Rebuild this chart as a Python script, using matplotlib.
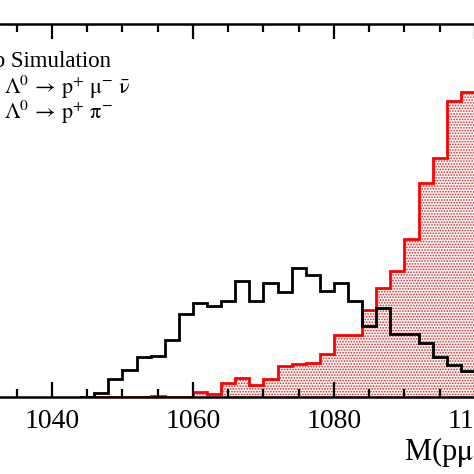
import numpy as np
import matplotlib.pyplot as plt
from matplotlib.ticker import MultipleLocator

plt.rcParams['font.family'] = 'Liberation Serif'
plt.rcParams['mathtext.fontset'] = 'stix'
plt.rcParams['hatch.linewidth'] = 0.8

# bin edges in MeV (2 MeV bins)
edges = np.arange(1044, 1101, 2)

# Lambda0 -> p mu nu (black), arbitrary units
semilep = [0.5, 4, 17.7, 27, 39.7, 40.7, 57, 82.7, 94.5, 91.5,
           96.5, 116, 96.5, 114.3, 105.5, 129.5, 122.5, 106.3, 114.5, 96,
           71.5, 89, 62.8, 63.5, 54, 40.3, 32.3, 26.5]

# Lambda0 -> p pi (red, shaded)
hadronic = [0, 0.3, 0.3, 0.3, 0.3, 1.3, 0.3, 0.5, 4.7, 2.7,
            13.7, 19, 12.5, 18.5, 31.5, 33.3, 34.3, 43, 62.3, 62,
            86.7, 109.5, 126.5, 157.7, 214.3, 238.7, 296, 305.3]

W, H = 474, 474
fig = plt.figure(figsize=(W / 100, H / 100), dpi=100)

# axes partly outside the canvas (the picture is a crop)
x0_px, px_per_unit = 52.0, 7.05
xmin, xmax = 1030, 1130
left = (x0_px - (1040 - xmin) * px_per_unit) / W
width = (xmax - xmin) * px_per_unit / W
ax = fig.add_axes([left, (H - 397) / H, width, 373 / H])

ax.stairs(hadronic, edges, fill=True, facecolor='#fbf4f4', edgecolor='#c83030',
          linewidth=0, hatch='......')
ax.stairs(hadronic, edges, baseline=0, color='red', linewidth=2.0)
ax.stairs(semilep, edges, baseline=0, color='black', linewidth=2.0)

ax.set_xlim(xmin, xmax)
ax.set_ylim(0, 373)
ax.xaxis.set_major_locator(MultipleLocator(20))
ax.xaxis.set_minor_locator(MultipleLocator(5))
ax.tick_params(axis='x', which='both', direction='in', top=True, width=1.6,
               labelsize=20, pad=9)
ax.tick_params(axis='x', which='major', length=11)
ax.tick_params(axis='x', which='minor', length=6)
ax.set_yticks([])
for s in ax.spines.values():
    s.set_linewidth(1.8)

fig.text(111 / W, (H - 67) / H, 'LHCb Simulation', ha='right', va='baseline',
         fontsize=16.5)
fig.text(4 / W, (H - 94) / H,
         r'$\Lambda^{0}\,\rightarrow\,\mathrm{p}^{+}\ \mathrm{\mu}^{-}\ \bar{\mathrm{\nu}}$',
         ha='left', va='baseline', fontsize=16)
fig.text(4 / W, (H - 119) / H,
         r'$\Lambda^{0}\,\rightarrow\,\mathrm{p}^{+}\ \mathrm{\pi}^{-}$',
         ha='left', va='baseline', fontsize=16)
fig.text(404 / W, (H - 461) / H, r'M(p$\mathrm{\mu}^{-}$) [MeV/$c^{2}$]', ha='left',
         va='baseline', fontsize=22)

fig.savefig('out.png', dpi=100)
